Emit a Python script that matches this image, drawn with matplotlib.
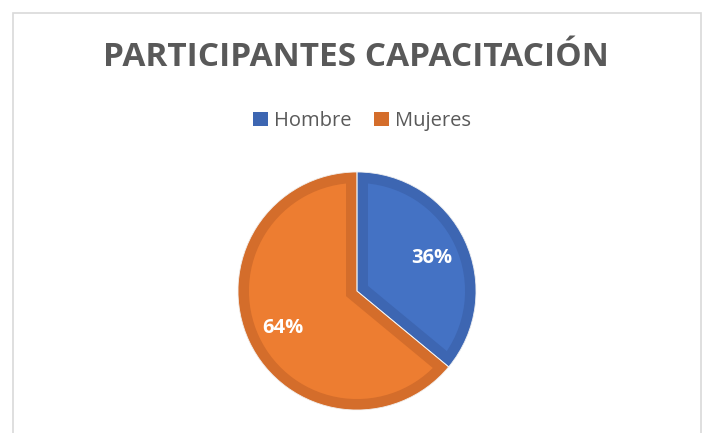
import matplotlib.pyplot as plt
from matplotlib.patches import Patch, Rectangle

# data
categories = ["Hombre", "Mujeres"]
values = [36, 64]
fill_colors = ["#4472C4", "#ED7D31"]
edge_colors = ["#3D66B2", "#D46D2B"]
title = "PARTICIPANTES CAPACITACIÓN"

W, H = 702, 433
fig = plt.figure(figsize=(W / 100, H / 100), dpi=100)
fig.patch.set_facecolor("white")

# chart frame
fig.patches.append(Rectangle((13 / W, -0.05), (701 - 13) / W, (H - 13) / H + 0.05,
                             transform=fig.transFigure, fill=False,
                             edgecolor="#D9D9D9", linewidth=1.2))

# pie axes: centre (357, 291) px, radius 119 px
cx, cy, r = 357, 291, 119
ax = fig.add_axes([(cx - r) / W, (H - cy - r) / H, 2 * r / W, 2 * r / H])
wedges, _ = ax.pie(values, colors=fill_colors, startangle=90, counterclock=False,
                   radius=1.0, wedgeprops=dict(linewidth=0))
for w, ec in zip(wedges, edge_colors):
    # thick border, clipped so only the inner half shows
    w.set_edgecolor(ec)
    w.set_linewidth(15.8)
    w.set_clip_path(w)
    w.set_clip_on(True)
# thin light seam between slices
ax.pie(values, colors=["white", "white"], startangle=90, counterclock=False, radius=1.0,
       wedgeprops=dict(linewidth=0.6, edgecolor="#F2F2F2", fill=False))
ax.set_xlim(-1, 1)
ax.set_ylim(-1, 1)
ax.set_aspect("equal")
ax.axis("off")

# percentage labels
label_pos = [(0.63, 0.28), (-0.62, -0.31)]
for v, (x, y) in zip(values, label_pos):
    ax.text(x, y, f"{v}%", color="white", fontsize=14.5, fontweight="bold",
            family="Open Sans", ha="center", va="center")

fig.text(356 / W, 1 - 57 / H, title, ha="center", va="center",
         fontsize=24, fontweight="bold", color="#595959", family="Open Sans")

handles = [Patch(facecolor=c, edgecolor="none") for c in edge_colors]
fig.legend(handles, categories, loc="center", bbox_to_anchor=(362 / W, 1 - 121 / H),
           ncol=2, frameon=False, handlelength=0.75, handleheight=0.75,
           handletextpad=0.3, columnspacing=1.15, prop={"family": "Open Sans", "size": 14.5},
           labelcolor="#595959")

fig.savefig("out.png", dpi=100)
